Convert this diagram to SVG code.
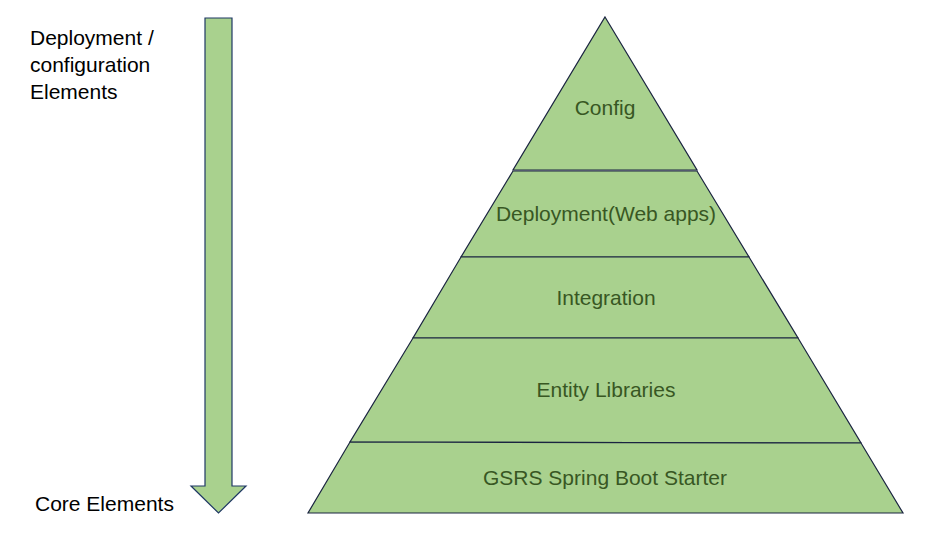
<svg xmlns="http://www.w3.org/2000/svg" width="937" height="553" viewBox="0 0 937 553">
<style>
.layer{fill:#A9D18E;stroke:#1a2440;stroke-width:1.2;stroke-linejoin:miter}
.lt{font-family:"Liberation Sans",Arial,sans-serif;font-size:21px;fill:#385723;text-anchor:middle}
.side{font-family:"Liberation Sans",Arial,sans-serif;font-size:21px;fill:#000}
</style>
<rect width="937" height="553" fill="#fff"/>
<g id="arrow">
<polygon points="205,18 232,18 232,486 246,486 218.5,513 191,486 205,486" fill="#A9D18E" stroke="#1f3864" stroke-width="1.2"/>
</g>
<g id="label-top">
<text class="side" x="30" y="45">Deployment /</text>
<text class="side" x="30" y="72">configuration</text>
<text class="side" x="30" y="99">Elements</text>
</g>
<g id="label-bottom">
<text class="side" x="35" y="511">Core Elements</text>
</g>
<g id="config">
<polygon class="layer" points="605,17 697,170 513,170"/>
<text class="lt" x="605" y="115">Config</text>
</g>
<g id="deployment">
<polygon class="layer" points="513,171 697,171 749,257 461,257"/>
<text class="lt" x="606" y="221">Deployment(Web apps)</text>
</g>
<g id="integration">
<polygon class="layer" points="461,257 749,257 798,338 413,338"/>
<text class="lt" x="606" y="305">Integration</text>
</g>
<g id="entity">
<polygon class="layer" points="413,338 798,338 861,443 350,442"/>
<text class="lt" x="606" y="397">Entity Libraries</text>
</g>
<g id="gsrs">
<polygon class="layer" points="350,442 861,443 903,513 308,513"/>
<text class="lt" x="605" y="485">GSRS Spring Boot Starter</text>
</g>
</svg>
